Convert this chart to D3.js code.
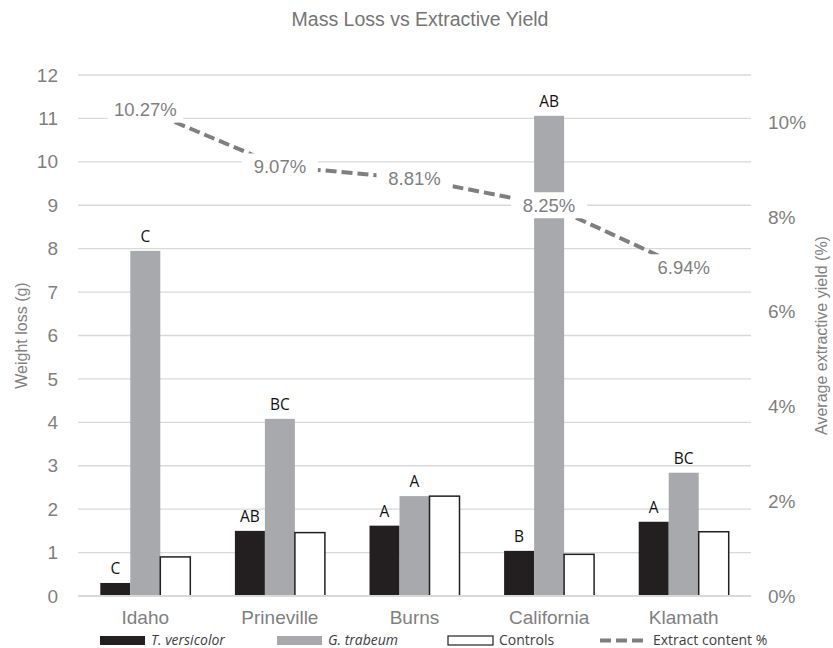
<!DOCTYPE html>
<html>
<head>
<meta charset="utf-8">
<script src="https://cdn.jsdelivr.net/npm/d3@7"></script>
<style>
  body { margin: 0; background: #fff; }
  text { font-family: "Liberation Sans", Arial, sans-serif; }
</style>
</head>
<body>
<div id="chart"></div>
<script>
// Data
const sites = ["Idaho", "Prineville", "Burns", "California", "Klamath"];
const seriesNames = ["T. versicolor", "G. trabeum", "Controls"];
const versicolor = [0.30, 1.50, 1.62, 1.04, 1.71];
const trabeum = [7.95, 4.08, 2.30, 11.06, 2.84];
const controls = [0.90, 1.46, 2.30, 0.96, 1.48];
const versicolorLetters = ["C", "AB", "A", "B", "A"];
const trabeumLetters = ["C", "BC", "A", "AB", "BC"];
const extract = [0.1027, 0.0907, 0.0881, 0.0825, 0.0694];
const leftTicks = [0, 1, 2, 3, 4, 5, 6, 7, 8, 9, 10, 11, 12];
const rightTicks = [0, 0.02, 0.04, 0.06, 0.08, 0.10];

const width = 833, height = 648;
const margin = {top: 75, right: 82, bottom: 52, left: 78};
const plotBottom = height - margin.bottom;

const svg = d3.select("#chart").append("svg")
  .attr("width", width)
  .attr("height", height);

const x0 = d3.scaleBand()
  .domain(sites)
  .range([margin.left, width - margin.right]);

const bw = 30;
const x1 = d3.scaleBand()
  .domain(seriesNames)
  .range([(x0.bandwidth() - 3 * bw) / 2, (x0.bandwidth() + 3 * bw) / 2]);

const y = d3.scaleLinear().domain([0, 12]).range([plotBottom, margin.top]);
const y2 = d3.scaleLinear().domain([0, 0.11]).range([plotBottom, margin.top]);

const fills = {"T. versicolor": "#231f20", "G. trabeum": "#a7a9ac", "Controls": "#ffffff"};
const values = {"T. versicolor": versicolor, "G. trabeum": trabeum, "Controls": controls};

// gridlines
svg.append("g")
  .selectAll("line")
  .data(leftTicks.filter(d => d > 0))
  .enter().append("line")
  .attr("x1", margin.left)
  .attr("x2", width - margin.right)
  .attr("y1", d => y(d))
  .attr("y2", d => y(d))
  .attr("stroke", "#d9d9d9")
  .attr("stroke-width", 1.3);

// left axis labels
svg.append("g")
  .selectAll("text")
  .data(leftTicks)
  .enter().append("text")
  .attr("x", 58)
  .attr("y", d => y(d))
  .attr("dy", "0.35em")
  .attr("text-anchor", "end")
  .attr("fill", "#7f7f7f")
  .style("font-size", "19px")
  .text(d => d);

// right axis labels
svg.append("g")
  .selectAll("text")
  .data(rightTicks)
  .enter().append("text")
  .attr("x", 768)
  .attr("y", d => y2(d))
  .attr("dy", "0.35em")
  .attr("fill", "#7f7f7f")
  .style("font-size", "19px")
  .text(d => d3.format(".0%")(d));

// bars
const groups = svg.append("g")
  .selectAll("g")
  .data(sites)
  .enter().append("g")
  .attr("transform", d => `translate(${x0(d)},0)`);

seriesNames.forEach(s => {
  groups.append("rect")
    .attr("x", x1(s))
    .attr("width", x1.bandwidth())
    .attr("y", (d, i) => y(values[s][i]))
    .attr("height", (d, i) => plotBottom - y(values[s][i]))
    .attr("fill", fills[s])
    .attr("stroke", s === "Controls" ? "#231f20" : "none")
    .attr("stroke-width", 1.5);
});

// significance letters
[["T. versicolor", versicolorLetters], ["G. trabeum", trabeumLetters]].forEach(([s, letters]) => {
  groups.append("text")
    .attr("x", x1(s) + x1.bandwidth() / 2)
    .attr("y", (d, i) => y(values[s][i]) - 9)
    .attr("text-anchor", "middle")
    .attr("fill", "#111")
    .style("font-family", "'Open Sans', sans-serif")
    .style("font-size", "15.5px")
    .text((d, i) => letters[i]);
});

// baseline
svg.append("line")
  .attr("x1", margin.left)
  .attr("x2", width - margin.right)
  .attr("y1", plotBottom)
  .attr("y2", plotBottom)
  .attr("stroke", "#d9d9d9")
  .attr("stroke-width", 2);

// extract line
const line = d3.line()
  .x((d, i) => x0(sites[i]) + x0.bandwidth() / 2)
  .y(d => y2(d));

svg.append("path")
  .datum(extract)
  .attr("d", line)
  .attr("fill", "none")
  .attr("stroke", "#7f7f7f")
  .attr("stroke-width", 4)
  .attr("stroke-dasharray", "11,5");

// line labels with white boxes
const lbl = svg.append("g")
  .selectAll("g")
  .data(extract)
  .enter().append("g")
  .attr("transform", (d, i) => `translate(${x0(sites[i]) + x0.bandwidth() / 2},${y2(d)})`);

lbl.append("rect")
  .attr("x", -38)
  .attr("y", -13)
  .attr("width", 76)
  .attr("height", 26)
  .attr("fill", "#fff");

lbl.append("text")
  .attr("text-anchor", "middle")
  .attr("dy", "0.35em")
  .attr("fill", "#7f7f7f")
  .style("font-size", "18.5px")
  .text(d => d3.format(".2%")(d));

// category labels
svg.append("g")
  .selectAll("text")
  .data(sites)
  .enter().append("text")
  .attr("x", d => x0(d) + x0.bandwidth() / 2)
  .attr("y", 624)
  .attr("text-anchor", "middle")
  .attr("fill", "#7f7f7f")
  .style("font-size", "19px")
  .text(d => d);

// title
svg.append("text")
  .attr("x", 420)
  .attr("y", 26)
  .attr("text-anchor", "middle")
  .attr("fill", "#757575")
  .style("font-size", "19.5px")
  .text("Mass Loss vs Extractive Yield");

// axis titles
svg.append("text")
  .attr("transform", `translate(27,${(margin.top + plotBottom) / 2}) rotate(-90)`)
  .attr("text-anchor", "middle")
  .attr("fill", "#7f7f7f")
  .style("font-size", "16px")
  .text("Weight loss (g)");

svg.append("text")
  .attr("transform", `translate(827,${(margin.top + plotBottom) / 2}) rotate(-90)`)
  .attr("text-anchor", "middle")
  .attr("fill", "#7f7f7f")
  .style("font-size", "16px")
  .text("Average extractive yield (%)");

// legend
const legendItems = [
  {name: "T. versicolor", x: 100, italic: true},
  {name: "G. trabeum", x: 277, italic: true},
  {name: "Controls", x: 448, italic: false},
  {name: "Extract content %", x: 600, italic: false, line: true}
];

const leg = svg.append("g")
  .selectAll("g")
  .data(legendItems)
  .enter().append("g")
  .attr("transform", d => `translate(${d.x},636)`);

leg.filter(d => !d.line).append("rect")
  .attr("width", 45)
  .attr("height", 9)
  .attr("fill", d => fills[d.name])
  .attr("stroke", d => d.name === "Controls" ? "#231f20" : "none")
  .attr("stroke-width", 1.2);

leg.filter(d => d.line).append("line")
  .attr("x1", 0)
  .attr("x2", 44)
  .attr("y1", 4.5)
  .attr("y2", 4.5)
  .attr("stroke", "#7f7f7f")
  .attr("stroke-width", 4)
  .attr("stroke-dasharray", "11,5");

leg.append("text")
  .attr("x", d => d.line ? 53 : 51)
  .attr("y", 8.5)
  .attr("fill", "#404040")
  .style("font-family", "'Open Sans', sans-serif")
  .style("font-size", "14px")
  .style("font-style", d => d.italic ? "italic" : "normal")
  .text(d => d.name);
</script>
</body>
</html>
